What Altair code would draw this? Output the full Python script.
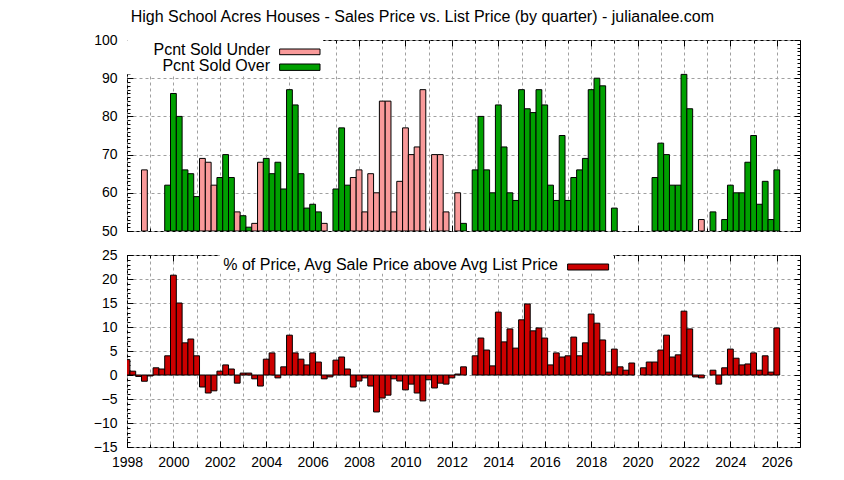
import altair as alt
import pandas as pd

FONT = "Liberation Sans"
W, H_TOP, H_BOT = 673, 191, 192

TITLE = "High School Acres Houses - Sales Price vs. List Price (by quarter) - julianalee.com"
UNDER_LABEL = "Pcnt Sold Under"
OVER_LABEL = "Pcnt Sold Over"
PRICE_LABEL = "% of Price, Avg Sale Price above Avg List Price"

# 1998 Q1 .. 2026 Q1, boxes are centred on the start of each quarter
quarters = [1998 + i / 4 for i in range(113)]

# percent of houses sold under (U) / over (O) list price, None = no box
sold_pct = [
    None, None, None, 66,   # 1998
    None, None, None, 62,   # 1999
    86, 80, 66, 65,         # 2000
    59, 69, 68, 62,         # 2001
    64, 70, 64, 55,         # 2002
    54, 51, 52, 68,         # 2003
    69, 65, 68, 61,         # 2004
    87, 83, 65, 56,         # 2005
    57, 55, 52, None,       # 2006
    61, 77, 62, 64,         # 2007
    66, 55, 65, 60,         # 2008
    84, 84, 55, 63,         # 2009
    77, 70, 72, 87,         # 2010
    None, 70, 70, 55,       # 2011
    None, 60, 52, None,     # 2012
    66, 80, 66, 60,         # 2013
    83, 72, 60, 58,         # 2014
    87, 82, 81, 87,         # 2015
    83, 62, 58, 75,         # 2016
    58, 64, 66, 69,         # 2017
    87, 90, 88, None,       # 2018
    56, None, None, None,   # 2019
    None, None, None, 64,   # 2020
    73, 70, 62, 62,         # 2021
    91, 82, None, 53,       # 2022
    None, 55, None, 53,     # 2023
    62, 60, 60, 68,         # 2024
    75, 57, 63, 53,         # 2025
    66,                     # 2026
]
sold_kind = [
    None, None, None, "U",
    None, None, None, "O",
    "O", "O", "O", "O",
    "O", "U", "U", "U",
    "O", "O", "O", "U",
    "O", "O", "U", "U",
    "O", "O", "O", "O",
    "O", "O", "O", "O",
    "O", "O", "U", None,
    "O", "O", "O", "U",
    "U", "U", "U", "U",
    "U", "U", "U", "U",
    "U", "U", "U", "U",
    None, "U", "U", "U",
    None, "U", "O", None,
    "O", "O", "O", "O",
    "O", "O", "O", "O",
    "O", "O", "O", "O",
    "O", "O", "O", "O",
    "O", "O", "O", "O",
    "O", "O", "O", None,
    "O", None, None, None,
    None, None, None, "O",
    "O", "O", "O", "O",
    "O", "O", None, "U",
    None, "O", None, "O",
    "O", "O", "O", "O",
    "O", "O", "O", "O",
    "O",
]
# % avg sale price above avg list price
price_pct = [
    3.2, 0.8, -0.3, -1.3,       # 1998
    -0.2, 1.5, 1.25, 4.0,       # 1999
    20.8, 15.0, 6.7, 7.5,       # 2000
    4.0, -2.5, -3.75, -3.3,     # 2001
    0.8, 2.1, 1.25, -1.7,       # 2002
    0.4, 0.4, -0.8, -2.3,       # 2003
    3.3, 4.6, -0.6, 1.7,        # 2004
    8.3, 4.6, 3.3, 2.1,         # 2005
    4.6, 2.7, -0.8, -0.4,       # 2006
    3.1, 3.75, 1.25, -2.5,      # 2007
    -1.25, -0.6, -2.3, -7.7,    # 2008
    -4.8, -4.2, -0.8, -1.25,    # 2009
    -3.1, -1.9, -3.75, -5.4,    # 2010
    -1.0, -2.7, -1.7, -1.9,     # 2011
    -0.6, 0.2, 1.7, None,       # 2012
    4.0, 7.7, 5.2, 1.9,         # 2013
    13.1, 6.9, 9.6, 5.6,        # 2014
    11.5, 14.8, 9.2, 9.8,       # 2015
    7.7, 2.1, 4.6, 3.75,        # 2016
    4.0, 7.9, 4.0, 6.7,         # 2017
    12.7, 10.8, 7.3, 0.6,       # 2018
    5.4, 1.7, 1.0, 2.5,         # 2019
    None, 1.5, 2.7, 2.7,        # 2020
    5.2, 8.3, 3.75, 4.2,        # 2021
    13.3, 9.6, -0.4, -0.6,      # 2022
    None, 1.0, -1.9, 1.5,       # 2023
    5.4, 3.5, 2.1, 2.3,         # 2024
    4.6, 1.0, 4.0, 0.6,         # 2025
    9.8,                        # 2026
]

years = list(range(1998, 2027))
top_major = list(range(50, 101, 10))
top_minor = list(range(50, 101))
bot_major = list(range(-15, 26, 5))
bot_minor = list(range(-15, 26))

PINK = "#f99a9a"   # stands in for gnuplot's red checkered fill
GREEN = "#00a000"
RED = "#cc0000"
GRID = "#a0a0a0"

df = pd.DataFrame({"q": quarters, "sold": sold_pct, "kind": sold_kind, "price": price_pct})
df["left"] = df["q"] - 0.125
df["right"] = df["q"] + 0.125
top_df = df.dropna(subset=["sold"])
bot_df = df.dropna(subset=["price"])
one = pd.DataFrame({"a": [0]})

x_scale = alt.Scale(domain=[1998, 2027], nice=False, zero=False)
top_y = alt.Scale(domain=[50, 100], nice=False, zero=False)
bot_y = alt.Scale(domain=[-15, 25], nice=False, zero=False)


def main_axes(labels, y_values):
    x_axis = alt.Axis(values=years, format="d", labels=labels, labelFlush=False,
                      labelExpr="datum.value % 2 === 0 ? datum.label : ''",
                      grid=True, gridColor=GRID, gridDash=[3, 3], ticks=False, tickSize=0,
                      domain=False, labelPadding=8, title=None)
    y_axis = alt.Axis(values=y_values, grid=True, gridColor=GRID, gridDash=[3, 3],
                      ticks=False, tickSize=0, domain=False, labelPadding=10, title=None)
    return x_axis, y_axis


def tick_layer(data, yfield, y_scale, height, x_orient, y_orient, x_values, y_values, size):
    # gnuplot style inward tics: an axis pushed across the plot with a negative offset
    def ax(orient, offset, values):
        return alt.Axis(orient=orient, offset=offset, values=values, tickSize=size,
                        tickColor="black", labels=False, grid=False, domain=False, title=None)
    return alt.Chart(data).mark_point(opacity=0).encode(
        x=alt.X("q:Q", scale=x_scale, axis=ax(x_orient, -height, x_values)),
        y=alt.Y(yfield, scale=y_scale, axis=ax(y_orient, -W, y_values)),
    )


def all_ticks(data, yfield, y_scale, height, y_major, y_minor):
    layers = []
    for xo, yo in (("top", "right"), ("bottom", "left")):
        layers.append(tick_layer(data, yfield, y_scale, height, xo, yo, years, y_minor, 3))
        layers.append(tick_layer(data, yfield, y_scale, height, xo, yo, years[::2], y_major, 6))
    return layers


def box(x1, x2, y1, y2, fill, stroke="black"):
    return alt.Chart(one).mark_rect(fill=fill, stroke=stroke, strokeWidth=1).encode(
        x=alt.value(x1), x2=alt.value(x2), y=alt.value(y1), y2=alt.value(y2))


def label(text, x, y, align="right", size=16):
    return alt.Chart(pd.DataFrame({"t": [text]})).mark_text(
        font=FONT, fontSize=size, align=align, baseline="alphabetic", color="black"
    ).encode(text="t:N", x=alt.value(x), y=alt.value(y))


# ---- top panel: percent sold under / over
tx, ty = main_axes(False, top_major)
top_bars = alt.Chart(top_df).mark_rect(stroke="black", strokeWidth=1, clip=True).encode(
    x=alt.X("left:Q", scale=x_scale, axis=tx),
    x2="right:Q",
    y=alt.Y("sold:Q", scale=top_y, axis=ty),
    y2=alt.datum(50),
    fill=alt.Fill("kind:N", scale=alt.Scale(domain=["U", "O"], range=[PINK, GREEN]), legend=None),
)
top = alt.layer(
    top_bars,
    *all_ticks(top_df, "sold:Q", top_y, H_TOP, top_major, top_minor),
    box(0.5, 196, 0.5, 34, "white", "white"),
    label(UNDER_LABEL, 143, 14.7),
    box(152.6, 193, 9, 14.7, PINK),
    label(OVER_LABEL, 143, 30.7),
    box(152.6, 193, 24, 30.4, GREEN),
    label(TITLE, 295.3, -18, align="center"),
).resolve_axis(x="independent", y="independent").properties(width=W, height=H_TOP)

# ---- bottom panel: avg sale price above avg list price
bx, by = main_axes(True, bot_major)
bot_bars = alt.Chart(bot_df).mark_rect(stroke="black", strokeWidth=1, fill=RED, clip=True).encode(
    x=alt.X("left:Q", scale=x_scale, axis=bx),
    x2="right:Q",
    y=alt.Y("price:Q", scale=bot_y, axis=by),
    y2=alt.datum(0),
)
bottom = alt.layer(
    bot_bars,
    *all_ticks(bot_df, "price:Q", bot_y, H_BOT, bot_major, bot_minor),
    box(93, 486, 0.5, 18, "white", "white"),
    label(PRICE_LABEL, 431, 15),
    box(440.6, 481.6, 9, 15, RED),
).resolve_axis(x="independent", y="independent").properties(width=W, height=H_BOT)

chart = alt.vconcat(top, bottom, spacing=24, bounds="flush").properties(
    padding={"left": 84, "top": 0, "right": 0, "bottom": 0}
).configure_view(
    stroke="black", strokeWidth=1
).configure_axis(
    labelFont=FONT, labelFontSize=14, labelColor="black"
)

chart.save("out.html", embed_options={"renderer": "svg", "actions": False})
